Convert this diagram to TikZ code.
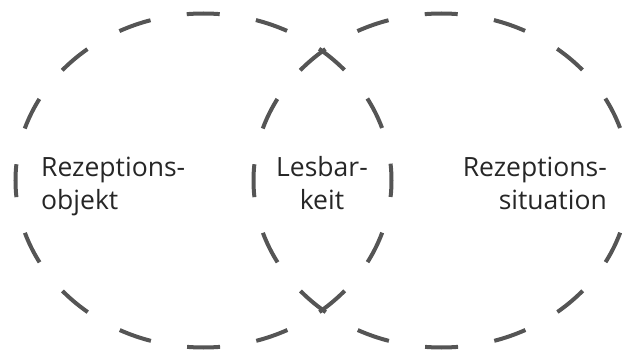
\documentclass[tikz,border=0pt]{standalone}
\usepackage{fontspec}
\setmainfont{Open Sans}
\definecolor{dashgray}{HTML}{555555}
\definecolor{txt}{HTML}{262626}
\begin{document}
\begin{tikzpicture}[x=1pt,y=-1pt,
  ring/.style={draw=dashgray, line width=4pt, dash pattern=on 33pt off 36.75pt, dash phase=16.5pt},
  lbl/.style={inner sep=0pt, text=txt, font=\fontsize{26.5}{33}\selectfont}]
\useasboundingbox (0,0) rectangle (622,350);
\draw[ring] (203.5,180.5) ellipse [x radius=188, y radius=167];
\draw[ring] (441.5,180.5) ellipse [x radius=188, y radius=167];
\node[lbl, align=left, anchor=base west] (obj) at (41,210) {Rezeptions-\\objekt};
\node[lbl, align=center, anchor=base] (les) at (322,210) {Lesbar-\\keit};
\node[lbl, align=right, anchor=base east] (sit) at (607,210) {Rezeptions-\\situation};
\end{tikzpicture}
\end{document}
